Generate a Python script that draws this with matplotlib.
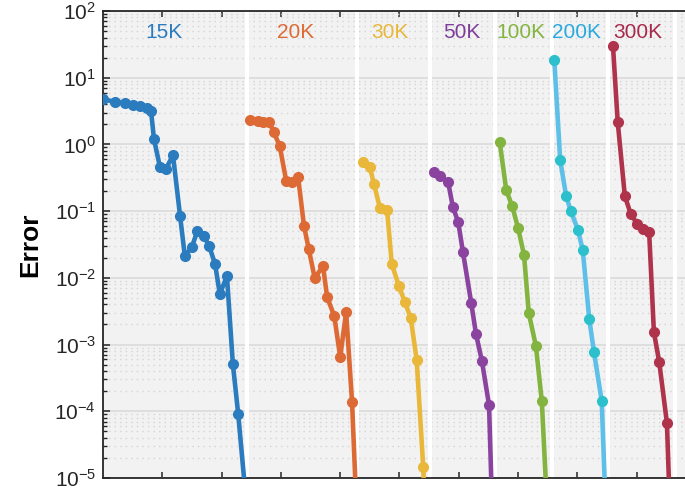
import numpy as np
import matplotlib
matplotlib.use("Agg")
import matplotlib.pyplot as plt
from matplotlib.ticker import LogLocator, LogFormatterMathtext, NullFormatter, FixedLocator

plt.rcParams['font.family'] = ['Liberation Sans', 'DejaVu Sans']
plt.rcParams['mathtext.fontset'] = 'custom'
plt.rcParams['mathtext.rm'] = 'Liberation Sans'
plt.rcParams['mathtext.it'] = 'Liberation Sans'
plt.rcParams['mathtext.bf'] = 'Liberation Sans:bold'

# ---- data ----
labels = ["15K", "20K", "30K", "50K", "100K", "200K", "300K"]
label_x = [1.03, 3.24, 4.84, 6.05, 7.05, 7.99, 9.02]

x_15k = [0.00, 0.20, 0.37, 0.51, 0.62, 0.74, 0.81, 0.86, 0.96, 1.06, 1.18, 1.30,
         1.38, 1.50, 1.59, 1.70, 1.79, 1.89, 1.97, 2.09, 2.19, 2.28, 2.48]
y_15k = [4.80, 4.32, 4.18, 3.90, 3.77, 3.51, 3.17, 1.20, 0.458, 0.428, 0.69, 0.0845,
         0.0212, 0.029, 0.0504, 0.0424, 0.030, 0.0161, 0.00571, 0.01064, 5.1e-4, 9.1e-5, 1e-6]

x_20k = [2.48, 2.61, 2.70, 2.80, 2.88, 2.98, 3.09, 3.19, 3.29, 3.39, 3.47, 3.57,
         3.71, 3.78, 3.90, 4.00, 4.10, 4.20, 4.30]
y_20k = [2.32, 2.24, 2.17, 2.17, 1.53, 0.946, 0.283, 0.273, 0.324, 0.0598, 0.027, 0.00993,
         0.015, 0.00515, 0.00267, 6.5e-4, 0.00307, 1.37e-4, 1e-6]

x_30k = [4.38, 4.50, 4.57, 4.67, 4.79, 4.87, 4.99, 5.09, 5.19, 5.29, 5.40, 5.45]
y_30k = [0.545, 0.458, 0.255, 0.111, 0.105, 0.0161, 0.00753, 0.00434, 0.00249, 5.86e-4, 1.46e-5, 1e-6]

x_50k = [5.58, 5.68, 5.82, 5.90, 5.99, 6.07, 6.21, 6.29, 6.39, 6.51, 6.58]
y_50k = [0.386, 0.336, 0.273, 0.115, 0.0687, 0.0244, 0.00419, 0.00144, 5.66e-4, 1.24e-4, 1e-6]

x_100k = [6.69, 6.80, 6.90, 7.00, 7.10, 7.18, 7.30, 7.40, 7.52]
y_100k = [1.087, 0.207, 0.119, 0.0558, 0.0220, 0.00297, 9.5e-4, 1.42e-4, 1e-6]

x_200k = [7.61, 7.71, 7.81, 7.89, 8.01, 8.09, 8.20, 8.28, 8.41, 8.50]
y_200k = [18.4, 0.583, 0.168, 0.100, 0.0521, 0.0261, 0.00241, 7.7e-4, 1.42e-4, 1e-6]

x_300k = [8.60, 8.68, 8.80, 8.90, 9.01, 9.11, 9.21, 9.29, 9.38, 9.51, 9.58]
y_300k = [29.9, 2.17, 0.168, 0.0906, 0.0641, 0.054, 0.0486, 0.00154, 5.47e-4, 6.65e-5, 1e-6]

separators = [2.43, 4.28, 5.51, 6.61, 7.57, 8.52, 9.65]

line_colors = ['#2b7bbf', '#dd6a35', '#e9b83a', '#8a44a0', '#84b440', '#5ec0e8', '#b0334c']
marker_colors = ['#2b7bbf', '#dd6a35', '#e9b83a', '#8a44a0', '#84b440', '#2cc0cc', '#b0334c']
text_colors = ['#2a7bc0', '#dd6a35', '#e9b83a', '#7e3d9a', '#84b440', '#29a9e0', '#a8294a']

xs = [x_15k, x_20k, x_30k, x_50k, x_100k, x_200k, x_300k]
ys = [y_15k, y_20k, y_30k, y_50k, y_100k, y_200k, y_300k]

# ---- figure ----
fig = plt.figure(figsize=(6.85, 4.92), dpi=100)
ax = fig.add_axes([103/685, 14/492, 1 - 103/685, (479 - 12)/492])
ax.set_facecolor('#f2f2f2')
ax.set_yscale('log')
ax.set_ylim(1e-5, 1e2)
ax.set_xlim(0, 582/59.3)

# grid
ax.set_axisbelow(True)
ax.yaxis.grid(True, which='major', color='#dadada', linewidth=1.2, linestyle='-')
ax.yaxis.grid(True, which='minor', color='#d4d4d4', linewidth=1.0, linestyle=(0, (1, 3)))

for s in separators:
    ax.axvspan(s - 0.03, s + 0.03, color='white', zorder=0.8, lw=0)

for x, y, lc, mc in zip(xs, ys, line_colors, marker_colors):
    ax.plot(x, y, '-', color=lc, lw=3.3, zorder=3, solid_capstyle='round')
    ax.plot(x, y, 'o', color=mc, ms=7, zorder=4, mec=mc)

for lab, lx, tc in zip(labels, label_x, text_colors):
    ax.text(lx, 48.4, lab, color=tc, fontsize=15, ha='center', va='center', zorder=5)

# ticks and spines
ax.yaxis.set_major_locator(LogLocator(base=10, numticks=20))
ax.yaxis.set_minor_locator(LogLocator(base=10, subs=np.arange(2, 10), numticks=20))
ax.yaxis.set_major_formatter(LogFormatterMathtext())
ax.yaxis.set_minor_formatter(NullFormatter())
ax.xaxis.set_major_locator(FixedLocator(np.arange(1, 10)))
ax.tick_params(axis='x', which='both', direction='in', top=True, bottom=True,
               labelbottom=False, length=4, width=1.1, color='#262626')
ax.tick_params(axis='y', which='major', direction='in', left=True, right=False,
               length=5, width=1.1, color='#262626', labelsize=15,
               labelcolor='#262626', pad=5)
ax.tick_params(axis='y', which='minor', direction='in', left=True, right=False,
               length=3, width=1.0, color='#262626')
for side in ['left', 'top', 'bottom']:
    ax.spines[side].set_color('#262626')
    ax.spines[side].set_linewidth(1.3)
ax.spines['right'].set_visible(False)

ax.set_ylabel('Error', fontsize=19, fontweight='bold', color='black', labelpad=9)

fig.savefig('out.png', dpi=100)
